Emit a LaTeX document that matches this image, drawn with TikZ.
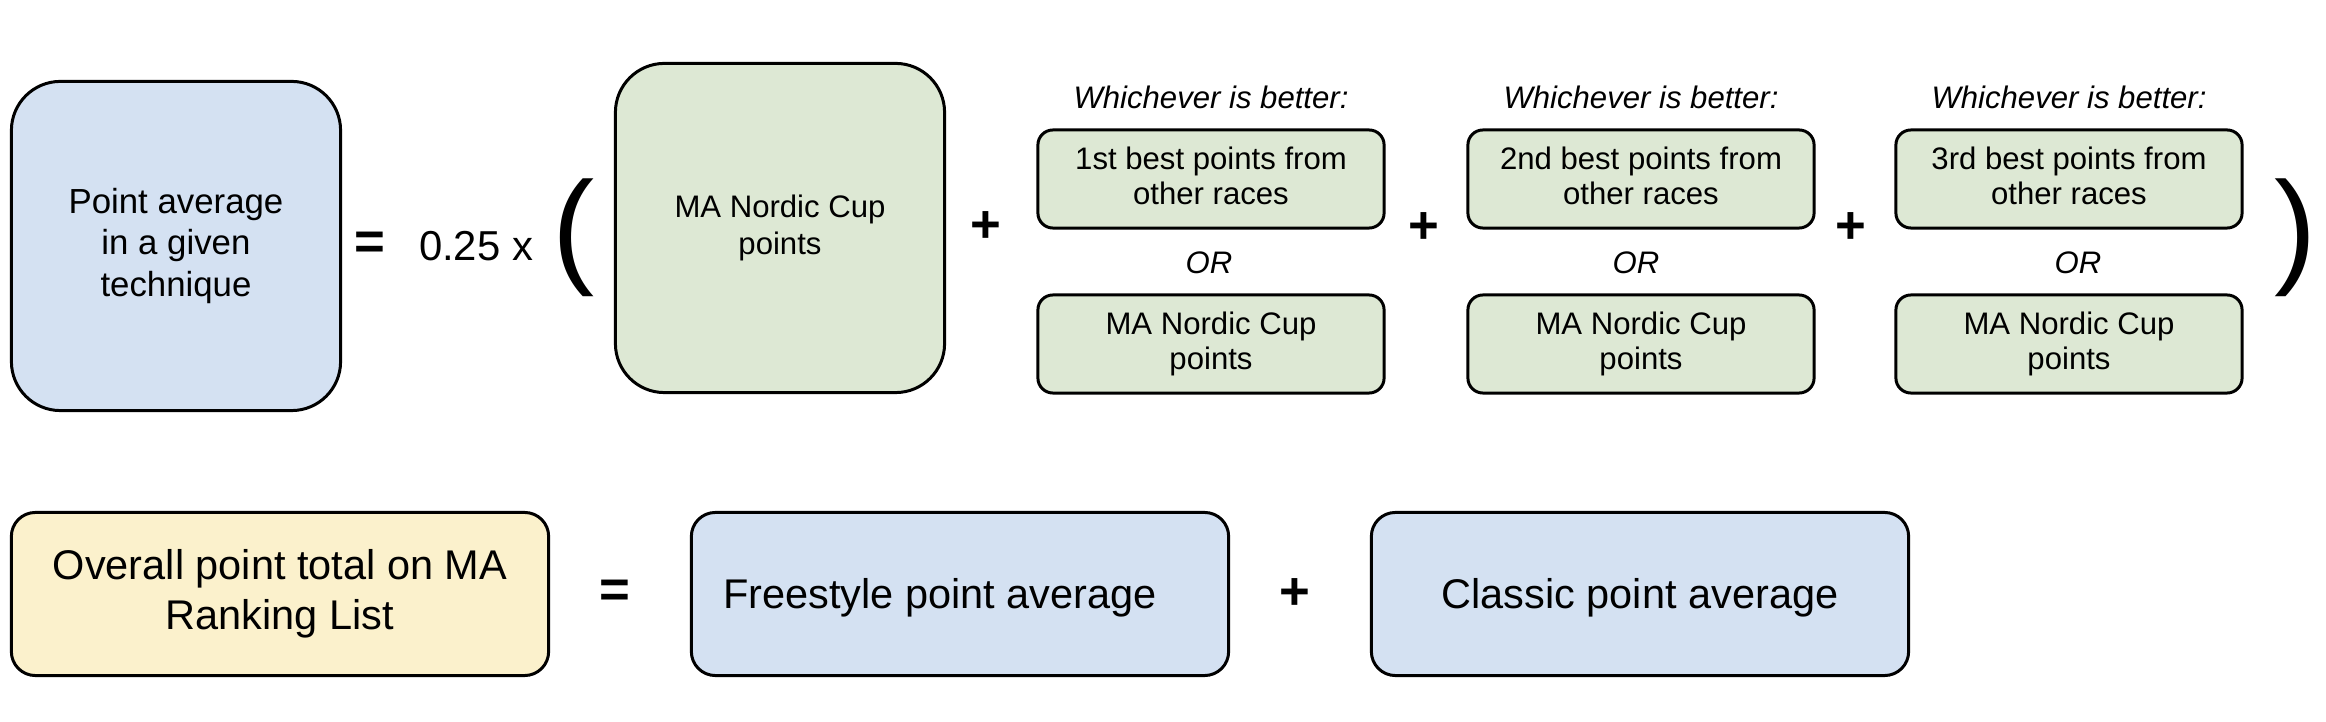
\documentclass[tikz,border=0pt]{standalone}
\usepackage{fontspec}
\setmainfont{Liberation Sans}
\usetikzlibrary{positioning}
\definecolor{avgblue}{RGB}{212,225,242}
\definecolor{cupgreen}{RGB}{221,232,212}
\definecolor{totyellow}{RGB}{251,241,204}
\tikzstyle{box} = [draw, line width=0.85pt, align=center, inner sep=0pt,
    execute at begin node={\rule{0pt}{0.905em}}, execute at end node={\rule[-0.212em]{0pt}{0pt}}]
\tikzstyle{bigbox} = [box, minimum width=3.29cm, minimum height=3.29cm, rounded corners=0.49cm]
\tikzstyle{pickbox} = [box, fill=cupgreen, minimum width=3.46cm, minimum height=0.98cm, rounded corners=0.15cm, font=\fontsize{8.85}{10.1}\selectfont]
\tikzstyle{widebox} = [box, minimum width=5.37cm, minimum height=1.63cm, rounded corners=0.24cm, font=\fontsize{11.8}{14.2}\selectfont]
\tikzstyle{op} = [inner sep=0pt, font=\fontsize{15}{18}\selectfont\bfseries]
\tikzstyle{note} = [inner sep=0pt, font=\fontsize{8.85}{10.1}\selectfont\itshape]
\tikzstyle{paren} = [inner sep=0pt, font=\fontsize{36}{40}\selectfont]

\begin{document}
\begin{tikzpicture}[x=0.01cm, y=-0.01cm]
        \useasboundingbox (0,0) rectangle (2326,722);

        % point average in one technique
        \node at (176,246) [bigbox, fill=avgblue, font=\fontsize{9.9}{11.7}\selectfont] (avg) {Point average\\in a given\\technique};
        \node at (370,246) [op] (eq) {=};
        \node at (476,246) [inner sep=0pt, font=\fontsize{11.9}{14}\selectfont] (coef) {0.25 x};
        \node at (574,238) [paren] (lpar) {(};
        \node at (780,228) [bigbox, fill=cupgreen, font=\fontsize{8.85}{10.3}\selectfont] (cup) {MA Nordic Cup\\points};
        \node at (986,227) [op] (plusa) {+};

        \foreach \cx/\ox/\nth/\nm in {1211/1209/1st/one, 1641/1636/2nd/two, 2069/2078/3rd/three} {
            \node at (\cx,97) [note] (which\nm) {Whichever is better:};
            \node at (\cx,179) [pickbox] (best\nm) {\nth\ best points from\\other races};
            \node at (\ox,263) [note] (or\nm) {OR};
            \node at (\cx,344) [pickbox] (cup\nm) {MA Nordic Cup\\points};
        }

        \node at (1424,228) [op] (plusb) {+};
        \node at (1851,228) [op] (plusc) {+};
        \node at (2296,238) [paren] (rpar) {)};

        % overall total
        \node at (280,594) [widebox, fill=totyellow] (total) {Overall point total on MA\\Ranking List};
        \node at (615,594) [op] (eqb) {=};
        \node at (960,594) [widebox, fill=avgblue] (free) {Freestyle point average\hspace*{0.4cm}};
        \node at (1295,594) [op] (plusd) {+};
        \node at (1640,594) [widebox, fill=avgblue] (classic) {Classic point average};

\end{tikzpicture}
\end{document}
